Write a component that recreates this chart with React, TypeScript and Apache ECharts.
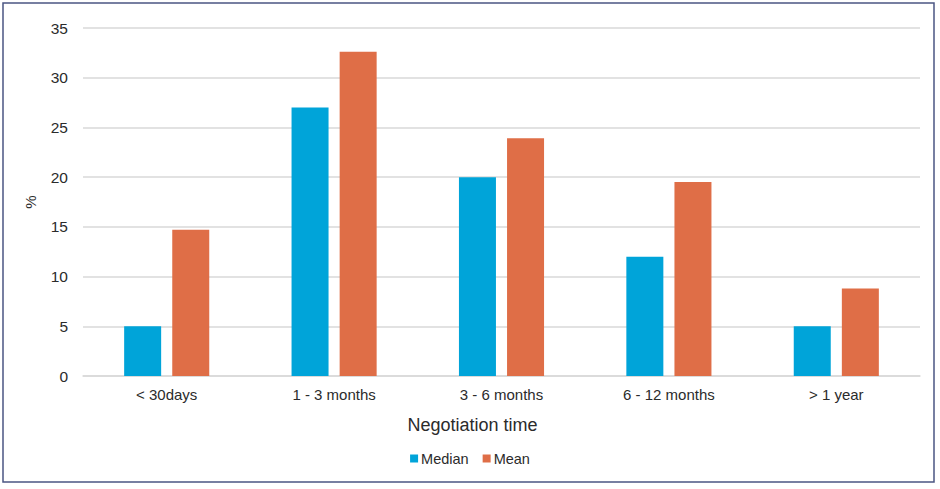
import React, { useEffect, useRef } from "react";
import * as echarts from "echarts";

const categories = ["< 30days", "1 - 3 months", "3 - 6 months", "6 - 12 months", "> 1 year"];
const medianValues = [5, 27, 20, 12, 5];
const meanValues = [14.7, 32.6, 23.9, 19.5, 8.8];
const seriesNames = ["Median", "Mean"];

const FONT = "Liberation Sans, Arial, sans-serif";

export default function App() {
  const ref = useRef<HTMLDivElement>(null);
  useEffect(() => {
    if (!ref.current) return;
    const chart = echarts.init(ref.current, null, { renderer: "svg" });
    chart.setOption({
      animation: false,
      backgroundColor: "#ffffff",
      textStyle: { fontFamily: FONT },
      graphic: [
        {
          type: "rect",
          shape: { x: 3, y: 3, width: 931, height: 479 },
          style: { fill: "none", stroke: "#4b5683", lineWidth: 1.5 },
          silent: true,
        },
      ],
      grid: { left: 83, right: 20, top: 28, bottom: 113 },
      legend: {
        data: seriesNames,
        left: "center",
        top: 446,
        itemWidth: 8,
        itemHeight: 8,
        itemGap: 14,
        icon: "rect",
        textStyle: { fontSize: 14.5, color: "#2b2b2b", fontFamily: FONT, padding: [0, 0, 0, -2] },
      },
      xAxis: {
        type: "category",
        data: categories,
        name: "Negotiation time",
        nameLocation: "middle",
        nameGap: 40,
        nameTextStyle: { fontSize: 18, color: "#2b2b2b", fontFamily: FONT, padding: [0, 58, 0, 0] },
        axisLine: { lineStyle: { color: "#d9d9d9", width: 1.5 } },
        axisTick: { show: false },
        axisLabel: { fontSize: 15, color: "#2b2b2b", margin: 11, fontFamily: FONT },
      },
      yAxis: {
        type: "value",
        min: 0,
        max: 35,
        interval: 5,
        name: "%",
        nameLocation: "middle",
        nameGap: 45,
        nameTextStyle: { fontSize: 15, color: "#2b2b2b", fontFamily: FONT },
        axisLine: { show: false },
        axisTick: { show: false },
        axisLabel: { fontSize: 15.5, color: "#2b2b2b", margin: 15, fontFamily: FONT },
        splitLine: { lineStyle: { color: "#d9d9d9", width: 1.5 } },
      },
      series: [
        {
          name: seriesNames[0],
          type: "bar",
          data: medianValues,
          barWidth: 37,
          barGap: "30%",
          itemStyle: { color: "#00a4d9" },
        },
        {
          name: seriesNames[1],
          type: "bar",
          data: meanValues,
          barWidth: 37,
          barGap: "30%",
          itemStyle: { color: "#df6e47" },
        },
      ],
    });
    return () => chart.dispose();
  }, []);
  return (
    <div
      ref={ref}
      style={{ position: "absolute", left: 0, top: 0, width: 940, height: 489 }}
    />
  );
}
